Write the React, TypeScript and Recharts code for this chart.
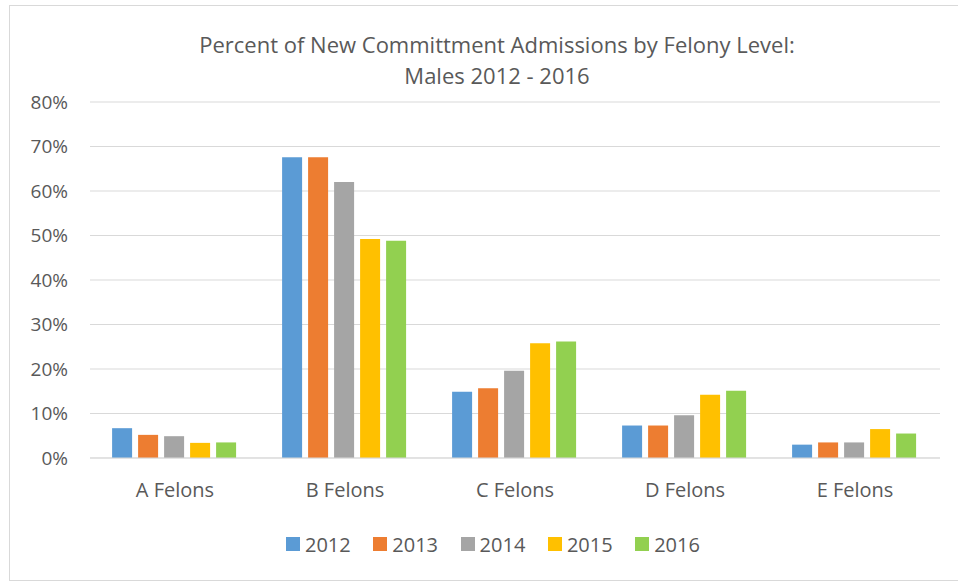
import { BarChart, Bar, XAxis, YAxis, CartesianGrid } from 'recharts';

const CATEGORIES = ['A Felons', 'B Felons', 'C Felons', 'D Felons', 'E Felons'];
const YEARS = ['2012', '2013', '2014', '2015', '2016'];

// percent values per year, in category order
const V2012 = [6.7, 67.6, 14.9, 7.3, 3.0];
const V2013 = [5.2, 67.6, 15.7, 7.3, 3.5];
const V2014 = [4.9, 62.0, 19.6, 9.6, 3.5];
const V2015 = [3.4, 49.2, 25.8, 14.2, 6.5];
const V2016 = [3.5, 48.8, 26.2, 15.1, 5.5];

const Y_TICKS = [0, 10, 20, 30, 40, 50, 60, 70, 80];

const COLORS = ['#5B9BD5', '#ED7D31', '#A5A5A5', '#FFC000', '#92D050'];
const TEXT = '#595959';
const GRID = '#D9D9D9';
const FONT = '"Open Sans", sans-serif';

const SERIES = [V2012, V2013, V2014, V2015, V2016];
const data = CATEGORIES.map((name, i) => {
  const row: any = { name };
  YEARS.forEach((y, j) => { row[y] = SERIES[j][i]; });
  return row;
});

export default function App() {
  return (
    <div
      style={{
        position: 'absolute', left: 9, top: 5, width: 950, height: 576,
        border: `1px solid ${GRID}`, boxSizing: 'border-box', background: '#fff',
        fontFamily: FONT,
      }}
    >
      <div
        style={{
          position: 'absolute', top: 23, left: 26, width: 922, textAlign: 'center',
          fontSize: 22, lineHeight: '31px', color: TEXT,
        }}
      >
        Percent of New Committment Admissions by Felony Level:
        <br />
        Males 2012 - 2016
      </div>
      <BarChart
        width={948}
        height={574}
        data={data}
        margin={{ top: 96, right: 18, bottom: 92, left: 0 }}
        barCategoryGap="13%"
        barGap={6}
      >
        <CartesianGrid vertical={false} stroke={GRID} strokeWidth={1} />
        <XAxis
          dataKey="name"
          height={30}
          tickSize={0}
          tickMargin={25}
          axisLine={{ stroke: GRID }}
          tickLine={false}
          tick={{ fill: TEXT, fontSize: 20, fontFamily: FONT }}
        />
        <YAxis
          width={80}
          domain={[0, 80]}
          ticks={Y_TICKS}
          tickFormatter={(v) => `${v}%`}
          tickSize={0}
          tickMargin={22}
          axisLine={false}
          tickLine={false}
          tick={{ fill: TEXT, fontSize: 19, fontFamily: FONT }}
        />
        {YEARS.map((y, j) => (
          <Bar key={y} dataKey={y} fill={COLORS[j]} isAnimationActive={false} />
        ))}
      </BarChart>
      <div
        style={{
          position: 'absolute', top: 526, left: 276, height: 24,
          display: 'flex', alignItems: 'center',
        }}
      >
        {YEARS.map((y, j) => (
          <div key={y} style={{ display: 'flex', alignItems: 'center', width: 87.3 }}>
            <span style={{ width: 14, height: 14, background: COLORS[j], display: 'inline-block', marginRight: 5 }} />
            <span style={{ fontSize: 20, color: TEXT }}>{y}</span>
          </div>
        ))}
      </div>
    </div>
  );
}
